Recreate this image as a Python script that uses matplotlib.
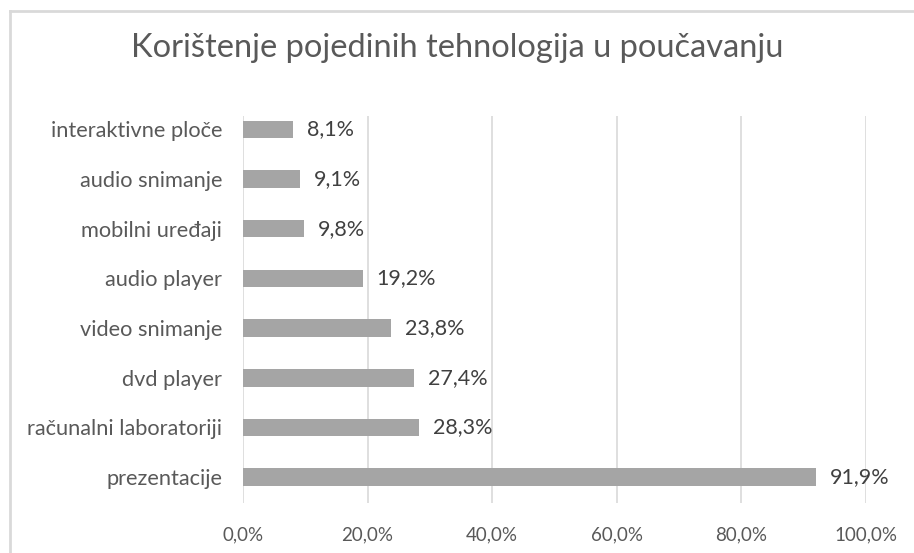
import matplotlib
matplotlib.use("Agg")

import matplotlib.pyplot as plt
from matplotlib.lines import Line2D

categories = [
    "prezentacije",
    "računalni laboratoriji",
    "dvd player",
    "video snimanje",
    "audio player",
    "mobilni uređaji",
    "audio snimanje",
    "interaktivne ploče",
]
values = [91.9, 28.3, 27.4, 23.8, 19.2, 9.8, 9.1, 8.1]
x_ticks = [0, 20, 40, 60, 80, 100]
title = "Korištenje pojedinih tehnologija u poučavanju"

plt.rcParams["font.family"] = ["Lato", "DejaVu Sans"]

fig = plt.figure(figsize=(9.14, 5.53), dpi=100)
ax = fig.add_axes([243 / 914, 1 - 503 / 553, (866 - 243) / 914, (503 - 116) / 553])

ypos = list(range(len(categories)))
ax.barh(ypos, values, height=0.35, color="#a5a5a5", zorder=2)

for y, v in zip(ypos, values):
    ax.annotate(f"{v:.1f}%".replace(".", ","), xy=(v, y), xytext=(10, 0),
                textcoords="offset points", ha="left", va="center",
                fontsize=15.5, color="#404040")

ax.set_xlim(0, 100)
ax.set_ylim(-0.52, 7.27)
ax.set_xticks(x_ticks)
ax.set_xticklabels([f"{t:.1f}%".replace(".", ",") for t in x_ticks])
ax.set_yticks(ypos)
ax.set_yticklabels(categories)
ax.tick_params(axis="both", length=0, labelcolor="#595959")
ax.tick_params(axis="y", pad=15, labelsize=15.7)
ax.tick_params(axis="x", pad=17, labelsize=13.5)

ax.grid(axis="x", color="#d9d9d9", linewidth=1.2, zorder=0)
for s in ax.spines.values():
    s.set_visible(False)

fig.text(0.5, 1 - 48 / 553, title, ha="center", va="center",
         fontsize=23.5, color="#595959")

# outer chart border (left and top visible)
fig.add_artist(Line2D([9.5 / 914, 9.5 / 914], [0, 1 - 11 / 553],
                      transform=fig.transFigure, color="#d9d9d9", linewidth=2))
fig.add_artist(Line2D([9.5 / 914, 1], [1 - 11 / 553, 1 - 11 / 553],
                      transform=fig.transFigure, color="#d9d9d9", linewidth=2))

fig.savefig("out.png", dpi=100)
plt.close(fig)
